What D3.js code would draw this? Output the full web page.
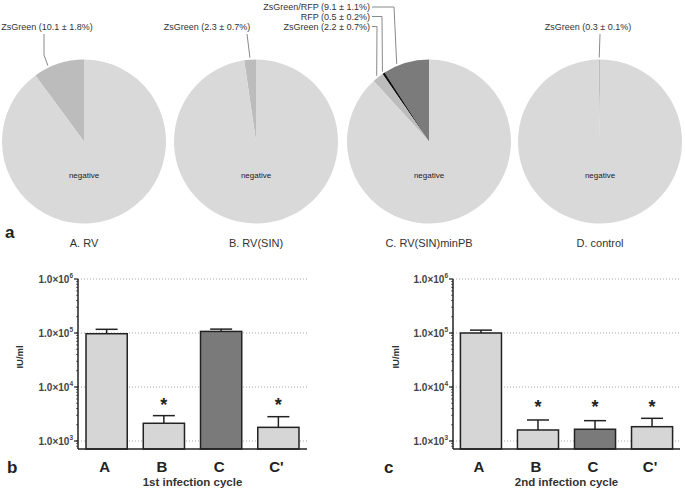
<!DOCTYPE html>
<html>
<head>
<meta charset="utf-8">
<script src="https://cdn.jsdelivr.net/npm/d3@7"></script>
<style>
  html, body { margin: 0; padding: 0; background: #fff; }
  svg { display: block; font-family: "Liberation Sans", Arial, sans-serif; }
</style>
</head>
<body>
<svg id="chart" width="685" height="489"></svg>
<script>
// ---------- DATA ----------
const pieTitles = ["A. RV", "B. RV(SIN)", "C. RV(SIN)minPB", "D. control"];
const pieSliceNames = [
  ["ZsGreen", "negative"],
  ["ZsGreen", "negative"],
  ["ZsGreen/RFP", "RFP", "ZsGreen", "negative"],
  ["ZsGreen", "negative"]
];
const pieSliceValues = [
  [10.1, 89.9],
  [2.3, 97.7],
  [9.1, 0.5, 2.2, 88.2],
  [0.3, 99.7]
];
const pieSliceSD = [
  [1.8, null],
  [0.7, null],
  [1.1, 0.2, 0.7, null],
  [0.1, null]
];

const barCategories = ["A", "B", "C", "C'"];
const cycle1Values = [97000, 2130, 107000, 1790];
const cycle1Err = [20000, 820, 11000, 1030];
const cycle1Signif = [false, true, false, true];
const cycle2Values = [100000, 1600, 1650, 1840];
const cycle2Err = [13000, 850, 730, 790];
const cycle2Signif = [false, true, true, true];
const yTickValues = [1e3, 1e4, 1e5, 1e6];
const yTickExponents = ["3", "4", "5", "6"];

// ---------- STYLE / LAYOUT ----------
const svg = d3.select("#chart");
const textCol = "#333";
const sliceColors = {
  "negative": "#d9d9d9",
  "ZsGreen": "#bcbcbc",
  "RFP": "#111111",
  "ZsGreen/RFP": "#7b7b7b"
};

// ---------- PIES ----------
const pieCx = [84, 256, 429, 600];
const pieCy = 141.5, pieR = 82;
const pie = d3.pie().sort(null).value(d => d.value).startAngle(0).endAngle(-2 * Math.PI);
const arc = d3.arc().innerRadius(0).outerRadius(pieR);

const leaderLayout = {
  "0-0": {type: "v", tx: 47, ty: 30, lx: 44, elbowY: 55, t: 0.7},
  "1-0": {type: "v", tx: 207, ty: 30, lx: 247, elbowY: null, t: 0.5},
  "2-0": {type: "e", tx: 370, ty: 9.5, ly: 7, ex: 394, t: 0.69},
  "2-1": {type: "e", tx: 370, ty: 19.5, ly: 16.5, ex: 382, t: 0.5},
  "2-2": {type: "e", tx: 370, ty: 29.5, ly: 26.5, ex: 377, t: 0.5},
  "3-0": {type: "v", tx: 588, ty: 30, lx: 600, elbowY: null, t: 0.5}
};

pieTitles.forEach((title, i) => {
  const data = pieSliceNames[i].map((n, j) => ({name: n, value: pieSliceValues[i][j], sd: pieSliceSD[i][j]}));
  const arcs = pie(data);
  const g = svg.append("g").attr("transform", `translate(${pieCx[i]},${pieCy})`);
  g.selectAll("path").data(arcs).enter().append("path")
    .attr("d", arc)
    .attr("fill", d => sliceColors[d.data.name]);
  g.append("text").attr("x", 0).attr("y", 178 - pieCy)
    .attr("text-anchor", "middle").attr("font-size", 8).attr("fill", "#222")
    .text("negative");

  arcs.forEach((a, j) => {
    const L = leaderLayout[i + "-" + j];
    if (!L) return;
    const ang = a.startAngle + (a.endAngle - a.startAngle) * L.t;
    const rr = pieR + 2;
    const ex = pieCx[i] + rr * Math.sin(ang);
    const ey = pieCy - rr * Math.cos(ang);
    const label = `${a.data.name} (${a.data.value} \u00b1 ${a.data.sd}%)`;
    let pts;
    if (L.type === "v") {
      pts = L.elbowY ? [[L.lx, 34], [L.lx, L.elbowY], [ex, ey]] : [[L.lx, 34], [ex, ey]];
      svg.append("text").attr("x", L.tx).attr("y", L.ty).attr("text-anchor", "middle")
        .attr("font-size", 9).attr("fill", textCol).text(label);
    } else {
      pts = [[L.tx + 2, L.ly], [L.ex, L.ly], [ex, ey]];
      svg.append("text").attr("x", L.tx).attr("y", L.ty).attr("text-anchor", "end")
        .attr("font-size", 9).attr("fill", textCol).text(label);
    }
    svg.append("path").attr("d", d3.line()(pts)).attr("fill", "none")
      .attr("stroke", "#8a8a8a").attr("stroke-width", 1);
  });

  svg.append("text").attr("x", pieCx[i]).attr("y", 247).attr("text-anchor", "middle")
    .attr("font-size", 11).attr("fill", textCol).text(title);
});
svg.append("text").attr("x", 5).attr("y", 238).attr("font-size", 17).attr("font-weight", "bold")
  .attr("fill", "#222").text("a");

// ---------- BAR CHARTS ----------
function barChart(opts) {
  const {x0, x1, values, errs, signif, letter, letterX, yLabelX, title} = opts;
  const yBottom = 449, yTop = 279;
  const y = d3.scaleLog().domain([Math.pow(10, 2 + 46 / 54), 1e6]).range([yBottom, yTop]);
  const x = d3.scaleBand().domain(barCategories).range([x0, x1]).paddingInner(0.28).paddingOuter(opts.pOuter);
  const g = svg.append("g");

  g.selectAll(".grid").data(yTickValues).enter().append("line")
    .attr("x1", x0).attr("x2", x1).attr("y1", d => y(d)).attr("y2", d => y(d))
    .attr("stroke", "#aaa").attr("stroke-width", 1).attr("stroke-dasharray", "1,2");

  const colors = barCategories.map(c => c === "C" ? "#7a7a7a" : "#d6d6d6");
  g.selectAll(".err").data(barCategories).enter().append("g").each(function(c, i) {
    const cx = x(c) + x.bandwidth() / 2;
    const s = d3.select(this);
    s.append("line").attr("x1", cx).attr("x2", cx).attr("y1", y(values[i])).attr("y2", y(values[i] + errs[i]))
      .attr("stroke", "#222").attr("stroke-width", 1.5);
    s.append("line").attr("x1", cx - 11).attr("x2", cx + 11)
      .attr("y1", y(values[i] + errs[i])).attr("y2", y(values[i] + errs[i]))
      .attr("stroke", "#222").attr("stroke-width", 1.5);
  });
  g.selectAll(".bar").data(barCategories).enter().append("rect")
    .attr("x", c => x(c)).attr("width", x.bandwidth())
    .attr("y", (c, i) => y(values[i])).attr("height", (c, i) => yBottom - y(values[i]))
    .attr("fill", (c, i) => colors[i]).attr("stroke", "#222").attr("stroke-width", 1.5);

  g.selectAll(".sig").data(barCategories.filter((c, i) => signif[i])).enter().append("text")
    .attr("x", c => x(c) + x.bandwidth() / 2).attr("y", y(5000) + 10 + opts.sigShift)
    .attr("text-anchor", "middle").attr("font-size", 18).attr("font-weight", "bold").attr("fill", "#222")
    .text("*");

  const minor = [];
  for (let e = 2; e <= 5; e++) for (let m = 1; m <= 9; m++) {
    const v = m * Math.pow(10, e);
    if (v >= y.domain()[0] && v <= 1e6) minor.push(v);
  }
  g.selectAll(".minor").data(minor).enter().append("line")
    .attr("x1", x0 - 2).attr("x2", x0).attr("y1", d => y(d)).attr("y2", d => y(d))
    .attr("stroke", "#444").attr("stroke-width", 0.8);
  g.selectAll(".major").data(yTickValues).enter().append("line")
    .attr("x1", x0 - 4).attr("x2", x0).attr("y1", d => y(d)).attr("y2", d => y(d))
    .attr("stroke", "#222").attr("stroke-width", 1.2);
  g.append("line").attr("x1", x0).attr("x2", x0).attr("y1", yTop).attr("y2", yBottom)
    .attr("stroke", "#222").attr("stroke-width", 1.5);
  g.append("line").attr("x1", x0).attr("x2", x1).attr("y1", yBottom).attr("y2", yBottom)
    .attr("stroke", "#222").attr("stroke-width", 1.5);

  yTickValues.forEach((v, i) => {
    const t = g.append("text").attr("x", x0 - 5).attr("y", y(v) + 3.5)
      .attr("text-anchor", "end").attr("font-size", 10).attr("font-weight", "bold").attr("fill", "#444");
    t.append("tspan").text("1.0\u00d710");
    t.append("tspan").attr("dy", -4.5).attr("font-size", 6.5).text(yTickExponents[i]);
  });

  g.append("text").attr("transform", `translate(${yLabelX},357) rotate(-90)`)
    .attr("text-anchor", "middle").attr("font-size", 9.5).attr("font-weight", "bold").attr("fill", "#333")
    .text("IU/ml");
  g.selectAll(".xl").data(barCategories).enter().append("text")
    .attr("x", c => x(c) + x.bandwidth() / 2 - 2).attr("y", 472)
    .attr("text-anchor", "middle").attr("font-size", 15).attr("font-weight", "bold").attr("fill", "#222")
    .text(c => c);
  g.append("text").attr("x", (x0 + x1) / 2).attr("y", 486).attr("text-anchor", "middle")
    .attr("font-size", 11.5).attr("font-weight", "bold").attr("fill", "#333").text(title);
  g.append("text").attr("x", letterX).attr("y", 473).attr("font-size", 17).attr("font-weight", "bold")
    .attr("fill", "#222").text(letter);
}

barChart({x0: 78, x1: 307, pOuter: 0.14, values: cycle1Values, errs: cycle1Err, signif: cycle1Signif,
  letter: "b", letterX: 7, yLabelX: 23, title: "1st infection cycle", sigShift: -2});
barChart({x0: 453, x1: 680, pOuter: 0.13, values: cycle2Values, errs: cycle2Err, signif: cycle2Signif,
  letter: "c", letterX: 384, yLabelX: 399, title: "2nd infection cycle", sigShift: 0});
</script>
</body>
</html>
